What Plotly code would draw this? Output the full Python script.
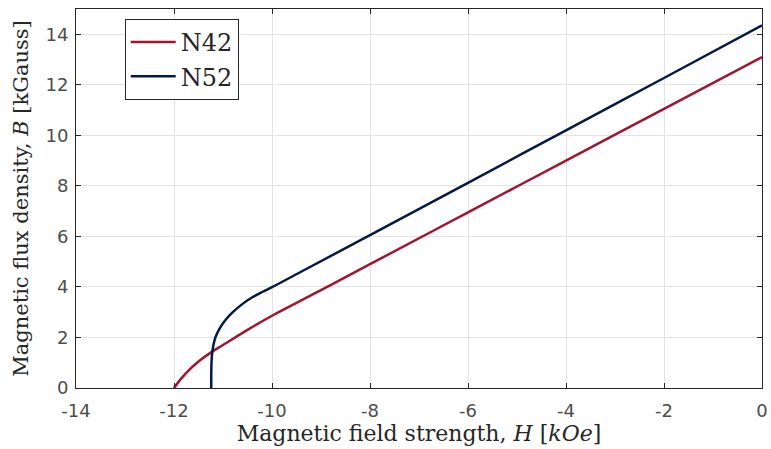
import plotly.graph_objects as go

# N42 demagnetization curve (H in kOe, B in kGauss)
n42_H = [-12.0, -11.85, -11.7, -11.5, -11.22, -11.0, -10.5, -10.0, -9.06, -8.0, -6.0, -4.0, -2.0, 0.0]
n42_B = [0.0, 0.38, 0.7, 1.05, 1.44, 1.7, 2.3, 2.86, 3.81, 4.9, 6.95, 9.0, 11.05, 13.1]

# N52 demagnetization curve
n52_H = [-11.24, -11.24, -11.235, -11.22, -11.19, -11.15, -11.07, -10.95, -10.8, -10.62, -10.41, -10.2, -10.0, -9.33, -8.0, -6.0, -4.0, -2.0, 0.0]
n52_B = [0.0, 0.5, 1.0, 1.4, 1.75, 2.03, 2.35, 2.69, 3.0, 3.3, 3.58, 3.8, 3.99, 4.68, 6.05, 8.12, 10.2, 12.27, 14.35]

x_ticks = [-14, -12, -10, -8, -6, -4, -2, 0]
y_ticks = [0, 2, 4, 6, 8, 10, 12, 14]

serif = "DejaVu Serif, Liberation Serif, serif"
sans = "DejaVu Sans, Liberation Sans, Arial, sans-serif"

fig = go.Figure()
fig.add_trace(go.Scatter(x=n42_H, y=n42_B, mode="lines", name="N42",
                         line=dict(color="#A2142F", width=2.5, shape="spline", smoothing=1.0)))
fig.add_trace(go.Scatter(x=n52_H, y=n52_B, mode="lines", name="N52",
                         line=dict(color="#041A44", width=2.5, shape="spline", smoothing=1.0)))

axis_common = dict(
    showline=True, mirror="ticks", linecolor="#262626", linewidth=1,
    ticks="inside", ticklen=5, tickcolor="#262626",
    showgrid=True, gridcolor="#E3E3E3", gridwidth=1,
    zeroline=False,
    tickfont=dict(family=sans, size=18, color="#4D4D4D"),
    ticklabeloverflow="allow",
)

fig.update_layout(
    width=771, height=449, autosize=False,
    margin=dict(l=76, r=3, t=9, b=61),
    paper_bgcolor="white", plot_bgcolor="white",
    xaxis=dict(range=[-14, 0], tickvals=x_ticks, ticktext=[str(v) for v in x_ticks],
               ticklabelstandoff=6,
               title=dict(text="Magnetic field strength, <i>H</i> [<i>kOe</i>]",
                          font=dict(family=serif, size=22, color="#262626"), standoff=4),
               **axis_common),
    yaxis=dict(range=[0, 15], tickvals=y_ticks, ticktext=[str(v) for v in y_ticks],
               ticklabelstandoff=3,
               title=dict(text="Magnetic flux density, <i>B</i> [kGauss]",
                          font=dict(family=serif, size=21, color="#262626"), standoff=11),
               **axis_common),
    legend=dict(x=0.071, y=0.974, xanchor="left", yanchor="top",
                bgcolor="white", bordercolor="#262626", borderwidth=1,
                font=dict(family=serif, size=24, color="#262626"),
                itemwidth=45, tracegroupgap=0),
    showlegend=True,
)

fig.write_html("out.html",
               config={"displayModeBar": False, "responsive": False},
               post_script="document.body.style.margin='0';document.body.style.overflow='hidden';")
